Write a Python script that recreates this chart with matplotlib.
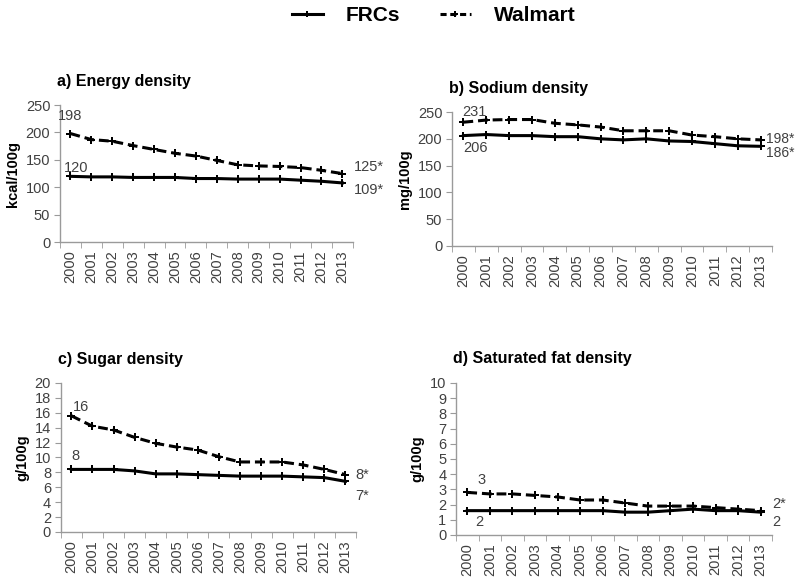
import matplotlib
matplotlib.use("Agg")
import matplotlib.pyplot as plt
from matplotlib.lines import Line2D

plt.rcParams.update({
    "font.family": ["Liberation Sans", "DejaVu Sans"],
    "font.size": 10,
})

years = [str(y) for y in range(2000, 2014)]

energy_frc = [120, 119, 119, 118, 118, 118, 116, 116, 115, 115, 115, 113, 111, 108]
energy_wal = [198, 187, 184, 176, 169, 162, 157, 149, 141, 139, 138, 136, 131, 125]

sodium_frc = [206, 208, 206, 206, 204, 204, 200, 198, 200, 196, 195, 191, 187, 186]
sodium_wal = [231, 235, 236, 236, 229, 226, 222, 215, 215, 215, 207, 204, 200, 198]

sugar_frc = [8.4, 8.4, 8.4, 8.2, 7.8, 7.8, 7.7, 7.6, 7.5, 7.5, 7.5, 7.4, 7.3, 6.8]
sugar_wal = [15.6, 14.2, 13.7, 12.7, 11.9, 11.4, 11.0, 10.1, 9.4, 9.4, 9.4, 9.0, 8.4, 7.7]

satfat_frc = [1.6, 1.6, 1.6, 1.6, 1.6, 1.6, 1.6, 1.5, 1.5, 1.6, 1.7, 1.6, 1.6, 1.5]
satfat_wal = [2.8, 2.7, 2.7, 2.6, 2.5, 2.3, 2.3, 2.1, 1.9, 1.9, 1.9, 1.8, 1.7, 1.6]

grey = "#404040"
spine_c = "#9a9a9a"

fig = plt.figure(figsize=(8, 5.85), dpi=100)

panels = [
    # title, ylabel, frc, wal, ymax, ystep, rect, labels
    ("a) Energy density", "kcal/100g", energy_frc, energy_wal, 250, 50,
     [0.075, 0.586, 0.366, 0.2345],
     [("198", 0, "w", (0, 12.5), "center", 10.5), ("120", 0, "f", (4, 6), "center", 10.5),
      ("125*", 13, "w", (8, 4.5), "left", 10.5), ("109*", 13, "f", (8, -5), "left", 10.5)]),
    ("b) Sodium density", "mg/100g", sodium_frc, sodium_wal, 250, 50,
     [0.565, 0.5795, 0.4, 0.229],
     [("231", 0, "w", (8, 7.5), "center", 10.5), ("206", 0, "f", (8.5, -9), "center", 10.5),
      ("198*", 13, "w", (4, 1), "left", 10), ("186*", 13, "f", (4, -5), "left", 10)]),
    ("c) Sugar density", "g/100g", sugar_frc, sugar_wal, 20, 2,
     [0.076, 0.0906, 0.369, 0.2547],
     [("16", 0, "w", (7, 6.5), "center", 10.5), ("8", 0, "f", (3, 9.6), "center", 10.5),
      ("8*", 13, "w", (7, 0), "left", 10.5), ("7*", 13, "f", (7, -10.5), "left", 10.5)]),
    ("d) Saturated fat density", "g/100g", satfat_frc, satfat_wal, 10, 1,
     [0.57, 0.0855, 0.395, 0.26],
     [("3", 0, "w", (10, 9), "center", 10.5), ("2", 0, "f", (8.5, -8), "center", 10.5),
      ("2*", 13, "w", (8, 5), "left", 10.5), ("2", 13, "f", (8, -7), "left", 10.5)]),
]

x = list(range(len(years)))

for title, ylab, frc, wal, ymax, ystep, rect, labels in panels:
    ax = fig.add_axes(rect)
    ax.plot(x, frc, color="black", lw=2.2, marker="P", markersize=5.5,
            markeredgewidth=0, solid_joinstyle="round")
    ax.plot(x, wal, color="black", lw=2.2, marker="P", markersize=5.5,
            markeredgewidth=0, dashes=(3.2, 1.6))

    ax.set_xlim(-0.5, len(years) - 0.5)
    ax.set_ylim(0, ymax)
    ax.set_yticks(range(0, ymax + 1, ystep))
    ax.set_xticks(x)
    ax.set_xticklabels(years, rotation=90, fontsize=10.5, color=grey)
    ax.set_xticks([i - 0.5 for i in range(len(years) + 1)], minor=True)
    ax.tick_params(axis="x", which="major", length=0, pad=6)
    ax.tick_params(axis="x", which="minor", length=4, color=spine_c, direction="out")
    ax.tick_params(axis="y", length=4, color=spine_c, labelsize=10.5,
                   labelcolor=grey, pad=3)

    for s in ["top", "right"]:
        ax.spines[s].set_visible(False)
    for s in ["left", "bottom"]:
        ax.spines[s].set_color(spine_c)
        ax.spines[s].set_linewidth(1)

    ax.set_ylabel(ylab, fontweight="bold", fontsize=10.5, color="black", labelpad=4)
    ax.set_title(title, loc="left", fontweight="bold", fontsize=11.5, pad=14,
                 x=-0.01)

    for txt, idx, which, off, ha, fs in labels:
        val = wal[idx] if which == "w" else frc[idx]
        ax.annotate(txt, xy=(idx, val), xytext=off, textcoords="offset points",
                    ha=ha, va="center", fontsize=fs, color=grey)

handles = [
    Line2D([], [], color="black", lw=2.2, marker="P", markersize=5, markeredgewidth=0),
    Line2D([], [], color="black", lw=2.2, marker="P", markersize=5, markeredgewidth=0,
           dashes=(2, 1.2)),
]
fig.legend(handles, ["FRCs", "Walmart"], loc="center", bbox_to_anchor=(0.542, 0.973),
           ncol=2, frameon=False, handlelength=1.5, handletextpad=1.1,
           columnspacing=1.9, prop={"weight": "bold", "size": 15})

fig.savefig("out.png", dpi=100)
